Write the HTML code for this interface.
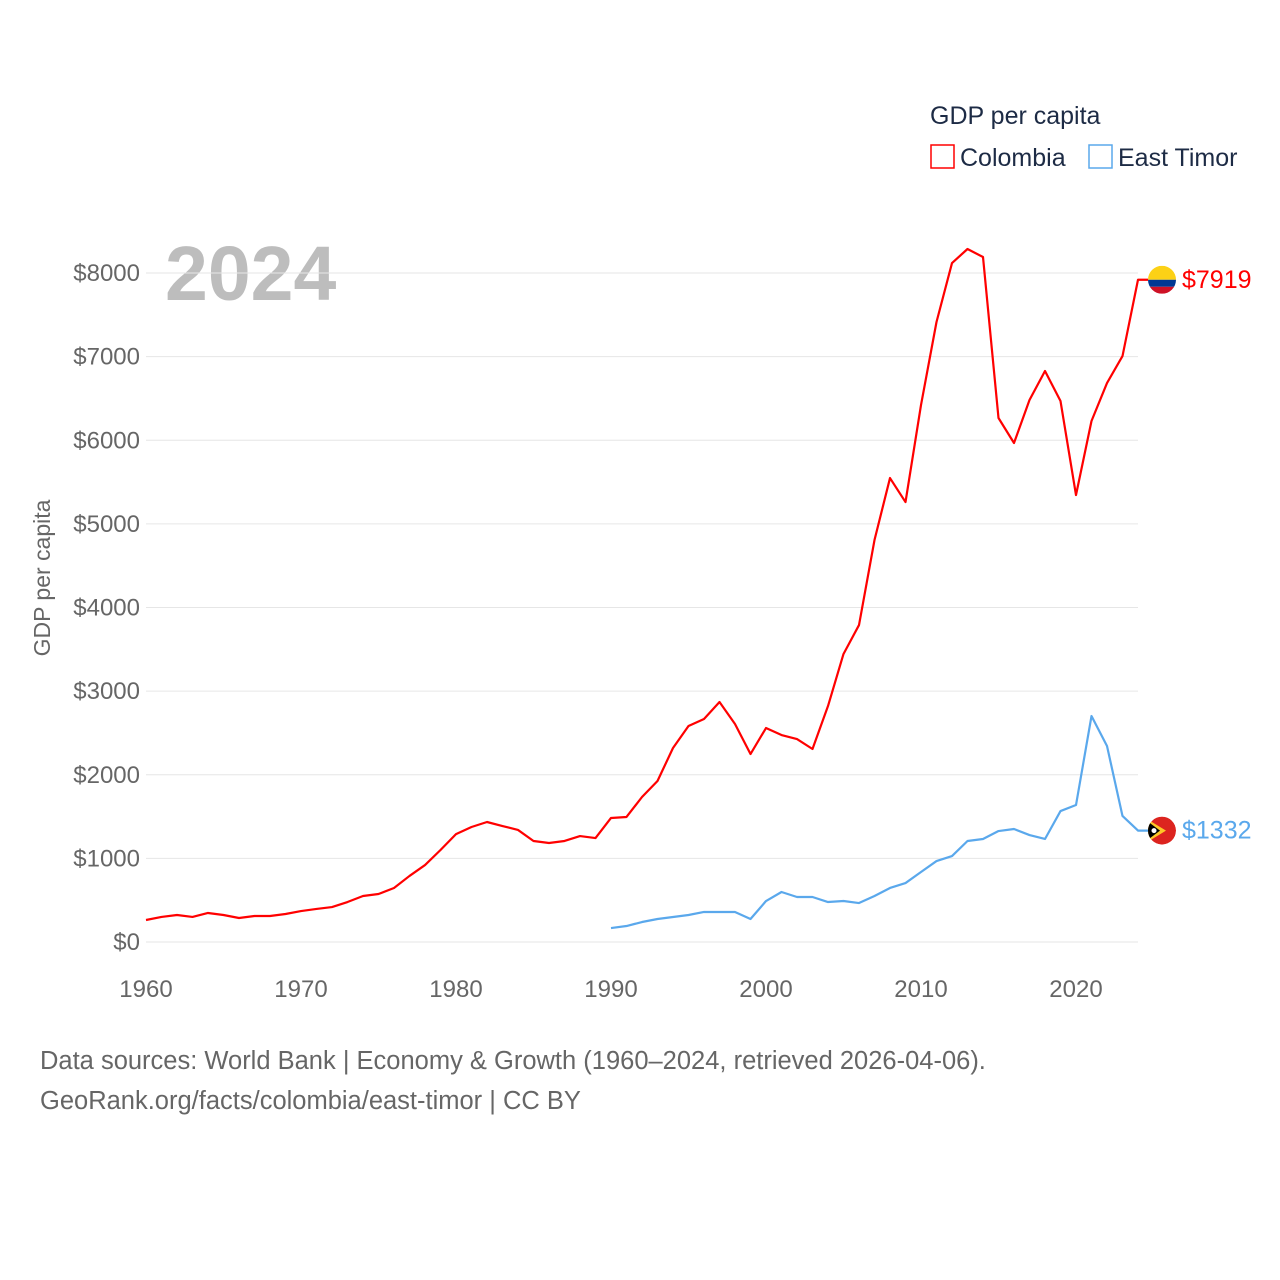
<!DOCTYPE html>
<html><head><meta charset="utf-8"><style>
body{margin:0;background:#fff;}
svg{display:block;font-family:"Liberation Sans",sans-serif;}
</style></head><body>
<svg id="chart" width="1280" height="1280">
<defs><clipPath id="c2"><circle id="c2c" cx="0" cy="0" r="14"/></clipPath></defs>
<text x="930" y="124" font-size="25" fill="#1d2b45">GDP per capita</text>
<g><rect x="931" y="145" width="23" height="23" fill="none" stroke="#ff0000" stroke-width="1.5"/><text x="960" y="166" font-size="25" fill="#1d2b45">Colombia</text></g>
<g><rect x="1089" y="145" width="23" height="23" fill="none" stroke="#5aa8ec" stroke-width="1.5"/><text x="1118" y="166" font-size="25" fill="#1d2b45">East Timor</text></g>
<text x="165" y="300" font-size="77" font-weight="bold" fill="#bdbdbd">2024</text>
<text transform="translate(50,578) rotate(-90)" text-anchor="middle" font-size="23" fill="#666">GDP per capita</text>
<g id="grid"></g><g id="lines"></g>
<text x="40" y="1069" font-size="25.5" fill="#666">Data sources: World Bank | Economy &amp; Growth (1960–2024, retrieved 2026-04-06).</text>
<text x="40" y="1109" font-size="25.5" fill="#666">GeoRank.org/facts/colombia/east-timor | CC BY</text>
</svg>
<script>
const yTicks=[0,1000,2000,3000,4000,5000,6000,7000,8000];
const xTicks=[1960,1970,1980,1990,2000,2010,2020];
const colYears=[];for(let y=1960;y<=2024;y++)colYears.push(y);
const colombia=[263,300,323,300,347,323,287,311,311,335,370,395,418,478,550,574,646,790,920,1100,1290,1375,1435,1387,1340,1208,1184,1208,1267,1243,1483,1495,1734,1925,2320,2583,2667,2870,2607,2248,2559,2475,2427,2308,2822,3444,3790,4807,5548,5261,6421,7414,8119,8287,8191,6266,5967,6481,6828,6469,5345,6230,6684,7007,7919];
const etYears=[];for(let y=1990;y<=2024;y++)etYears.push(y);
const eastTimor=[167,191,239,275,299,323,359,359,359,275,490,598,538,538,478,490,466,550,646,705,837,968,1028,1208,1232,1327,1351,1279,1232,1566,1638,2702,2344,1507,1332];
const NS='http://www.w3.org/2000/svg';
const X=y=>146+(y-1960)*15.5;
const Y=v=>942-v*0.083625;
function el(t,a,p){const e=document.createElementNS(NS,t);for(const k in a)e.setAttribute(k,a[k]);p.appendChild(e);return e;}
const grid=document.getElementById('grid'),lines=document.getElementById('lines');
yTicks.forEach(v=>{
 const l=el('line',{x1:146,x2:1138,y1:Y(v),y2:Y(v),stroke:'#e6e6e6','stroke-width':1},grid);
 
 
 const t=el('text',{x:140,y:Y(v)+8,'text-anchor':'end','font-size':24,fill:'#666'},grid);t.textContent='$'+v;
 
 
});
xTicks.forEach(v=>{
 const t=el('text',{x:X(v),y:997,'text-anchor':'middle','font-size':24,fill:'#666'},grid);t.textContent=v;
 
 
});
function series(ys,vals,color,name,flag){
 let d=ys.map((y,i)=>(i?'L':'M')+X(y)+','+Y(vals[i])).join(' ');
 const last=vals[vals.length-1];
 d+=' L1148,'+Y(last);
 const p=el('path',{d:d,fill:'none',stroke:color,'stroke-width':2.2,'stroke-linejoin':'round'},lines);
 
 
 const g=el('g',{},lines);
 
 
 flag(g,1162,Y(last));
 const t=el('text',{x:1182,y:Y(last)+8,'font-size':25,fill:color},lines);t.textContent='$'+last;
 
 
}
series(colYears,colombia,'#ff0000','colombia',(g,cx,cy)=>{
 const cp=el('clipPath',{id:'c1'},g);
 el('circle',{cx:cx,cy:cy,r:14},cp);
 el('rect',{x:cx-14,y:cy-14,width:28,height:14,fill:'#fcd116','clip-path':'url(#c1)'},g);
 el('rect',{x:cx-14,y:cy,width:28,height:7,fill:'#003893','clip-path':'url(#c1)'},g);
 el('rect',{x:cx-14,y:cy+7,width:28,height:7,fill:'#ce1126','clip-path':'url(#c1)'},g);
});
series(etYears,eastTimor,'#5aa8ec','east-timor',(g,cx,cy)=>{
 const c=document.getElementById('c2c');c.setAttribute('cx',cx);c.setAttribute('cy',cy);
 const gg=el('g',{'clip-path':'url(#c2)'},g);
 el('circle',{cx:cx,cy:cy,r:14,fill:'#dc241f'},gg);
 el('path',{d:`M${cx-14},${cy-11} L${cx+4},${cy} L${cx-14},${cy+11}Z`,fill:'#ffc726'},gg);
 el('path',{d:`M${cx-14},${cy-9} L${cx-2},${cy} L${cx-14},${cy+9}Z`,fill:'#000'},gg);
 el('circle',{cx:cx-8,cy:cy,r:2.5,fill:'#fff'},gg);
});
</script>
</body></html>
